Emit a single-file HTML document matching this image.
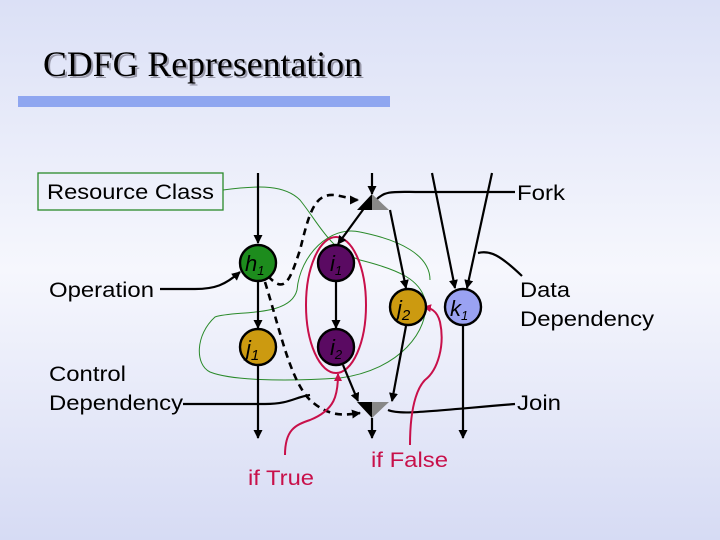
<!DOCTYPE html>
<html><head><meta charset="utf-8"><style>
html,body{margin:0;padding:0}
body{width:720px;height:540px;overflow:hidden}
svg{display:block}
text{font-family:"Liberation Sans",sans-serif}
</style></head><body>
<svg width="720" height="540" viewBox="0 0 720 540" xmlns="http://www.w3.org/2000/svg">
<defs>
<linearGradient id="bg" x1="0" y1="0" x2="0" y2="1">
<stop offset="0" stop-color="#dbe0f6"/>
<stop offset="0.5" stop-color="#f6f7fd"/>
<stop offset="1" stop-color="#d6dbf4"/>
</linearGradient>
<marker id="a" markerWidth="9" markerHeight="9" refX="8" refY="4.5" orient="auto" markerUnits="userSpaceOnUse"><path d="M0,0 L9,4.5 L0,9 z" fill="#000"/></marker>
<marker id="r" markerWidth="8" markerHeight="8" refX="7" refY="4" orient="auto" markerUnits="userSpaceOnUse"><path d="M0,0 L8,4 L0,8 z" fill="#c8104a"/></marker>
</defs>
<rect width="720" height="540" fill="url(#bg)"/>
<text x="45" y="78" font-size="36" fill="#99a" style="font-family:'Liberation Serif',serif" textLength="319" lengthAdjust="spacingAndGlyphs">CDFG Representation</text>
<text x="43" y="76" font-size="36" fill="#000" style="font-family:'Liberation Serif',serif" textLength="319" lengthAdjust="spacingAndGlyphs">CDFG Representation</text>
<rect x="18" y="96" width="372" height="11" fill="#8fa6f0"/>

<g fill="none" stroke="#2a8a2a" stroke-width="1">
<path d="M223,190 C260,185 285,185 300,200 C320,225 330,250 360,260 C400,270 420,280 425,300 C430,330 400,370 340,378 C280,382 230,380 210,372 C195,365 195,335 215,317 C235,310 290,318 297,290 C300,255 330,225 360,232 C400,240 430,255 430,280"/>
</g>
<rect x="38" y="173" width="185" height="37" fill="none" stroke="#2a8a2a" stroke-width="1.3"/>
<text x="47" y="199" font-size="21" textLength="167" lengthAdjust="spacingAndGlyphs">Resource Class</text>

<ellipse cx="336" cy="305" rx="30" ry="68" fill="none" stroke="#c8104a" stroke-width="2"/>

<g stroke="#000" stroke-width="2.2" fill="none">
<line x1="258" y1="173" x2="258" y2="243" marker-end="url(#a)"/>
<line x1="258" y1="282" x2="258" y2="328" marker-end="url(#a)"/>
<line x1="258" y1="366" x2="258" y2="438" marker-end="url(#a)"/>
<line x1="336" y1="282" x2="336" y2="328" marker-end="url(#a)"/>
<line x1="372" y1="173" x2="372" y2="194" marker-end="url(#a)"/>
<line x1="372" y1="418" x2="372" y2="438" marker-end="url(#a)"/>
<line x1="463" y1="326" x2="463" y2="438" marker-end="url(#a)"/>
<line x1="365" y1="207" x2="338" y2="244" marker-end="url(#a)"/>
<line x1="390" y1="210" x2="406" y2="288" marker-end="url(#a)"/>
<line x1="343" y1="365" x2="358" y2="401" marker-end="url(#a)"/>
<line x1="406" y1="326" x2="392" y2="401" marker-end="url(#a)"/>
<line x1="432" y1="173" x2="455" y2="288" marker-end="url(#a)"/>
<line x1="492" y1="173" x2="467" y2="288" marker-end="url(#a)"/>
<path d="M160,289 L195,289 C215,289 225,285 240,272" marker-end="url(#a)"/>
<path d="M183,404 L265,404 C290,404 295,397 310,395"/>
<path d="M376,200 C385,190 395,192 420,192 L515,192"/>
<path d="M388,410 C400,415 420,412 515,404"/>
<path d="M478,253 C490,250 500,255 522,276"/>
</g>
<g stroke="#000" stroke-width="2.6" fill="none" stroke-dasharray="7,5">
<path d="M268,276 C285,295 290,280 300,250 C310,210 315,190 340,196 C350,198 355,200 358,200" marker-end="url(#a)"/>
<path d="M265,282 C280,330 290,380 310,400 C330,418 345,415 360,413" marker-end="url(#a)"/>
</g>
<polygon points="372,194 357,210 372,210" fill="#000"/>
<polygon points="372,194 389,210 372,210" fill="#888"/>
<polygon points="372,418 357,402 372,402" fill="#000"/>
<polygon points="372,418 389,402 372,402" fill="#888"/>
<g stroke="#c8104a" stroke-width="2" fill="none">
<path d="M285,455 C285,430 295,425 310,420 C335,410 338,395 338,374" marker-end="url(#r)"/>
<path d="M410,445 C410,400 420,385 425,380 C438,370 445,345 440,322 C437,310 430,308 424,307" marker-end="url(#r)"/>
</g>
<g stroke="#000" stroke-width="2.4">
<circle cx="258" cy="263" r="18" fill="#1d8c1d"/>
<circle cx="258" cy="347" r="18" fill="#cc9a10"/>
<circle cx="336" cy="263" r="18" fill="#5a0a62"/>
<circle cx="336" cy="347" r="18" fill="#5a0a62"/>
<circle cx="408" cy="307" r="18" fill="#cc9a10"/>
<circle cx="463" cy="307" r="18" fill="#9aa2f2"/>
</g>
<g font-size="22" font-style="italic">
<text x="245" y="271">h<tspan font-size="13" dy="4">1</tspan></text>
<text x="246" y="356">j<tspan font-size="15" dy="4">1</tspan></text>
<text x="330" y="271">i<tspan font-size="13" dy="4">1</tspan></text>
<text x="330" y="355">i<tspan font-size="13" dy="4">2</tspan></text>
<text x="397" y="316">j<tspan font-size="15" dy="4">2</tspan></text>
<text x="450" y="316">k<tspan font-size="13" dy="4">1</tspan></text>
</g>
<g font-size="21">
<text x="49" y="297" textLength="105" lengthAdjust="spacingAndGlyphs">Operation</text>
<text x="49" y="381" textLength="77" lengthAdjust="spacingAndGlyphs">Control</text>
<text x="49" y="410" textLength="134" lengthAdjust="spacingAndGlyphs">Dependency</text>
<text x="517" y="200" textLength="48" lengthAdjust="spacingAndGlyphs">Fork</text>
<text x="520" y="297" textLength="50" lengthAdjust="spacingAndGlyphs">Data</text>
<text x="520" y="326" textLength="134" lengthAdjust="spacingAndGlyphs">Dependency</text>
<text x="517" y="410" textLength="44" lengthAdjust="spacingAndGlyphs">Join</text>
<text x="248" y="485" fill="#c8104a" textLength="66" lengthAdjust="spacingAndGlyphs">if True</text>
<text x="371" y="467" fill="#c8104a" textLength="77" lengthAdjust="spacingAndGlyphs">if False</text>
</g>
</svg>
</body></html>
